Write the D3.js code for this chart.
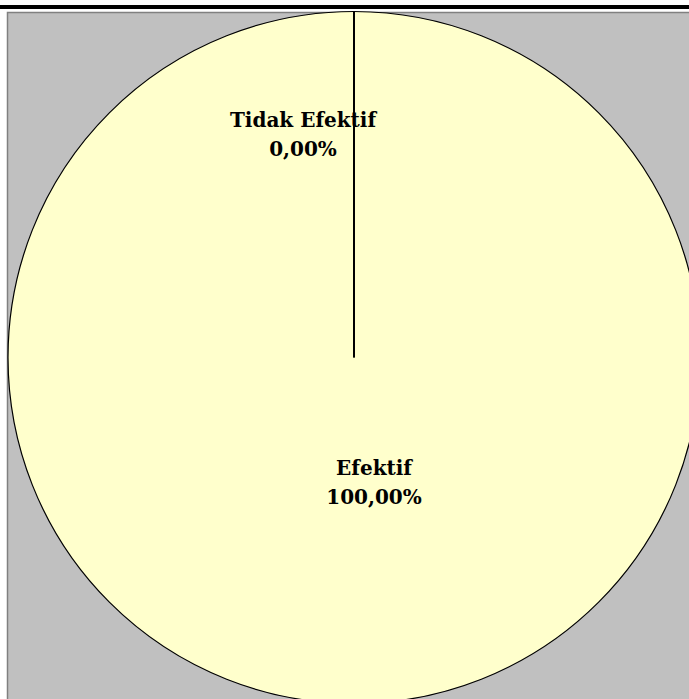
<!DOCTYPE html>
<html>
<head>
<meta charset="utf-8">
<script src="https://cdn.jsdelivr.net/npm/d3@7"></script>
<style>
  body { margin: 0; background: #fff; }
  svg { display: block; }
</style>
</head>
<body>
<div id="chart"></div>
<script>
// pie efektif / tidak efektif

const categories = ["Efektif", "Tidak Efektif"];
const values = [100, 0];
const pctLabels = ["100,00%", "0,00%"];

var width = 689;
var height = 699;

var svg = d3.select("#chart").append("svg")
    .attr("width", width)
    .attr("height", height);

// black rule on top
svg.append("rect")
  .attr("x", 0).attr("y", 5)
  .attr("width", width).attr("height", 4)
  .attr("fill", "#000");

// plot area
svg.append("rect")
  .attr("x", 7.5).attr("y", 12.5)
  .attr("width", width).attr("height", height)
  .attr("fill", "#c0c0c0")
  .attr("stroke", "#808080")
  .attr("stroke-width", 1.5);

var cx = 354, cy = 357.5, radius = 346;

var g = svg.append("g")
    .attr("transform", "translate(" + cx + "," + cy + ")");

var pie = d3.pie().sort(null).value(function(d) { return d.value; });

var data = pie(categories.map(function(c, i) {
  return { name: c, value: values[i], pct: pctLabels[i] };
}));

var arc = d3.arc().innerRadius(0).outerRadius(radius);

g.selectAll(".slice")
  .data(data).enter()
  .append("path")
    .attr("class", "slice")
    .attr("d", arc)
    .attr("fill", "#ffffcc")
    .attr("stroke", "#000")
    .attr("stroke-width", 1.2);

// slice borders (radius lines)
g.selectAll(".edge")
  .data(data.filter(function(d) { return d.value > 0; })).enter()
  .append("line")
    .attr("class", "edge")
    .attr("x1", 0).attr("y1", 0)
    .attr("x2", function(d) { return radius * Math.sin(d.startAngle); })
    .attr("y2", function(d) { return -radius * Math.cos(d.startAngle); })
    .attr("stroke", "#000")
    .attr("stroke-width", 2);

// labels
var labelRadius = [117, 231];
var labelDx = [20, -51];

var labels = g.selectAll(".label")
  .data(data).enter()
  .append("text")
    .attr("class", "label")
    .attr("text-anchor", "middle")
    .attr("font-family", "'DejaVu Serif', serif")
    .attr("font-weight", "bold")
    .attr("font-size", "20px")
    .attr("fill", "#000")
    .attr("transform", function(d, i) {
      var a = (d.startAngle + d.endAngle) / 2;
      var la = d3.arc().innerRadius(labelRadius[i]).outerRadius(labelRadius[i]);
      var c = la.centroid(d);
      if (d.endAngle - d.startAngle >= 2 * Math.PI - 1e-6) {
        c = [labelRadius[i] * Math.sin(a), -labelRadius[i] * Math.cos(a)];
      }
      return "translate(" + (c[0] + labelDx[i]) + "," + c[1] + ")";
    });

labels.append("tspan")
  .attr("x", 0).attr("dy", "0em")
  .text(function(d) { return d.data.name; });

labels.append("tspan")
  .attr("x", 0).attr("dy", "1.45em")
  .text(function(d) { return d.data.pct; });
</script>
</body>
</html>
